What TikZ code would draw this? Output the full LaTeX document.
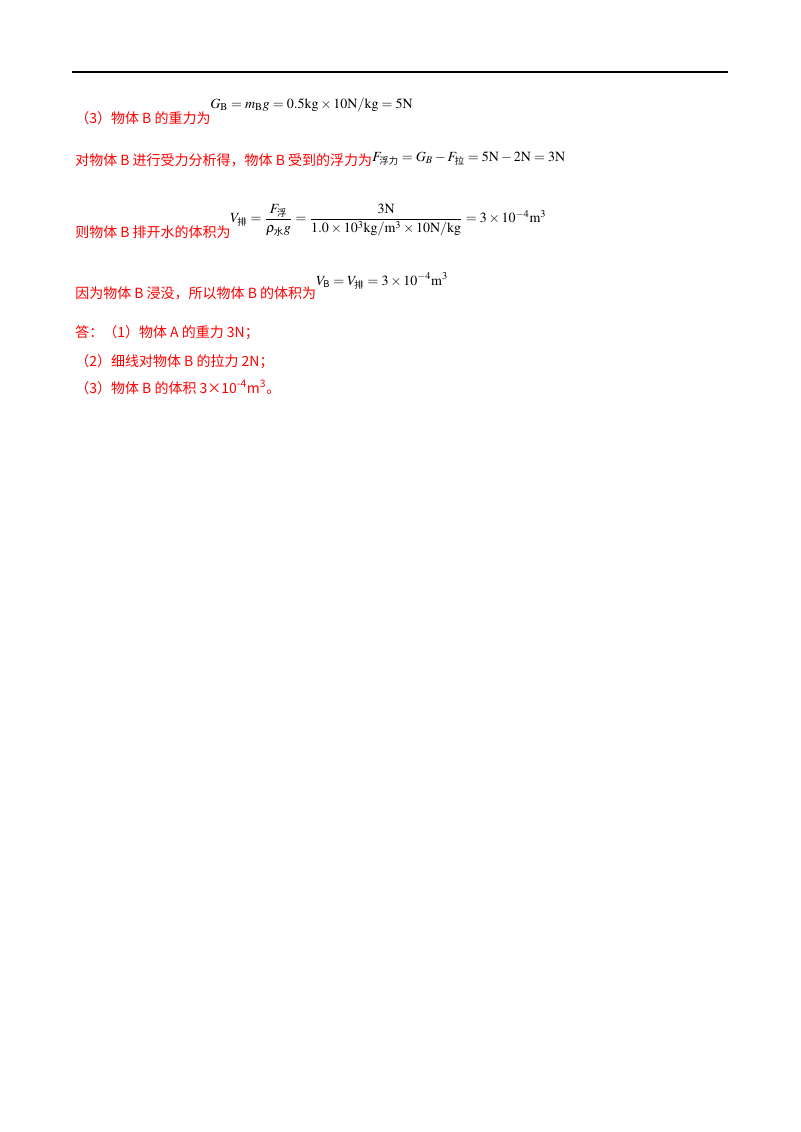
\documentclass[tikz,border=0pt]{standalone}
\usepackage{amsmath}
\usepackage{mathptmx}
\usepackage{fontspec}
\setmainfont{Liberation Serif}
\newfontfamily\cjk{Noto Sans CJK SC}
\newcommand{\zh}[1]{\mbox{\cjk\scriptsize #1}}

\begin{document}
\begin{tikzpicture}[
    x=0.75pt,y=-0.75pt,
    txt/.style={anchor=base west,inner sep=0pt,text=red,font=\cjk\fontsize{10.5}{12}\selectfont},
    eq/.style={anchor=base west,inner sep=0pt,font=\fontsize{10.5}{12}\selectfont},
]
\useasboundingbox (0,0) rectangle (800,1132);

% header rule
\draw[line width=1.5pt] (72,72) coordinate (ruleL) -- (728,72) coordinate (ruleR);

%% weight of B
\node[txt] (wB) at (75,123) {（3）物体 B 的重力为};
\node[eq] (wBeq) at (210,108) {$G_{\mathrm B}=m_{\mathrm B}g=0.5\mathrm{kg}\times10\mathrm{N}/\mathrm{kg}=5\mathrm N$};

%% buoyancy
\node[txt] (fB) at (75,165) {对物体 B 进行受力分析得，物体 B 受到的浮力为};
\node[eq] (fBeq) at (372,161) {$F_{\zh{浮力}}=G_B-F_{\zh{拉}}=5\mathrm N-2\mathrm N=3\mathrm N$};

%% displaced volume
\node[txt] (vP) at (75,237) {则物体 B 排开水的体积为};
\node[eq,anchor=west] (vPeq) at (230,220) {$V_{\zh{排}}=\dfrac{F_{\zh{浮}}}{\rho_{\zh{水}}g}=\dfrac{3\mathrm N}{1.0\times10^3\mathrm{kg}/\mathrm m^3\times10\mathrm N/\mathrm{kg}}=3\times10^{-4}\mathrm m^3$};

%% volume of B
\node[txt] (vB) at (75,298) {因为物体 B 浸没，所以物体 B 的体积为};
\node[eq] (vBeq) at (316,285) {$V_{\zh{B}}=V_{\zh{排}}=3\times10^{-4}\mathrm m^3$};

%% answers
\node[txt] (a1) at (75,337) {答：（1）物体 A 的重力 3N；};
\node[txt] (a2) at (75,366) {（2）细线对物体 B 的拉力 2N；};
\node[txt] (a3) at (75,393) {（3）物体 B 的体积 3×10\textsuperscript{-4}m\textsuperscript{3}。};
\end{tikzpicture}
\end{document}
